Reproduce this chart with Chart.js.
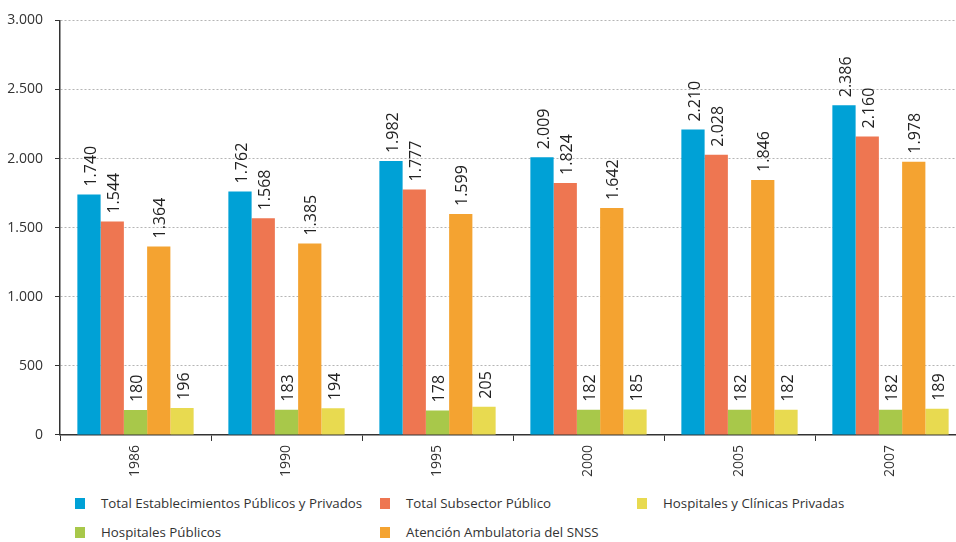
<!DOCTYPE html>
<html>
<head>
<meta charset="utf-8">
<script src="https://cdn.jsdelivr.net/npm/chart.js@4"></script>
<style>
    html, body { margin: 0; padding: 0; background: #fff; overflow: hidden; }
    body { width: 956px; height: 542px; position: relative; font-family: "Open Sans", sans-serif; }
    #wrap { position: absolute; left: 0; top: 0; width: 970px; height: 481px; }
    .leg { position: absolute; font-size: 13.3px; color: #333; white-space: nowrap; line-height: 16px; }
    .leg span { position: absolute; left: -26px; top: 3px; width: 10px; height: 11px; }
</style>
</head>
<body>
<div id="wrap"><canvas id="chart"></canvas></div>
<div id="legend"></div>
<script>
const years = ["1986", "1990", "1995", "2000", "2005", "2007"];
const totalEstablecimientos = [1740, 1762, 1982, 2009, 2210, 2386];
const totalSubsectorPublico = [1544, 1568, 1777, 1824, 2028, 2160];
const hospitalesPublicos = [180, 183, 178, 182, 182, 182];
const atencionAmbulatoria = [1364, 1385, 1599, 1642, 1846, 1978];
const hospitalesPrivados = [196, 194, 205, 185, 182, 189];
const yTicks = [0, 500, 1000, 1500, 2000, 2500, 3000];

const fmt = v => String(v).replace(/\B(?=(\d{3})+(?!\d))/g, ".");

const series = [
    { label: "Total Establecimientos Públicos y Privados", data: totalEstablecimientos, color: "#00a1d6" },
    { label: "Total Subsector Público", data: totalSubsectorPublico, color: "#ee7651" },
    { label: "Hospitales Públicos", data: hospitalesPublicos, color: "#a8c84a" },
    { label: "Atención Ambulatoria del SNSS", data: atencionAmbulatoria, color: "#f4a331" },
    { label: "Hospitales y Clínicas Privadas", data: hospitalesPrivados, color: "#e8da50" }
];

// value labels, rotated, above each bar
const barLabels = {
    id: "barLabels",
    afterDatasetsDraw(chart) {
        const ctx = chart.ctx;
        ctx.save();
        ctx.font = "16px 'Open Sans'";
        ctx.fillStyle = "#222";
        ctx.textAlign = "left";
        ctx.textBaseline = "middle";
        chart.data.datasets.forEach((ds, i) => {
            chart.getDatasetMeta(i).data.forEach((bar, j) => {
                ctx.save();
                ctx.translate(bar.x + 2, bar.y - 8);
                ctx.rotate(-Math.PI / 2);
                ctx.fillText(fmt(ds.data[j]), 0, 0);
                ctx.restore();
            });
        });
        ctx.restore();
    }
};

new Chart(document.getElementById("chart"), {
    type: "bar",
    data: {
        labels: years,
        datasets: series.map(s => ({
            label: s.label,
            data: s.data,
            backgroundColor: s.color,
            categoryPercentage: 0.77,
            barPercentage: 1
        }))
    },
    options: {
        responsive: true,
        maintainAspectRatio: false,
        animation: false,
        layout: { padding: { top: 8, right: 4, left: 0, bottom: 0 } },
        plugins: {
            legend: { display: false },
            tooltip: { enabled: false }
        },
        scales: {
            x: {
                grid: { display: true, drawOnChartArea: false, drawTicks: true, tickLength: 6, color: "#333" },
                border: { color: "#333", width: 1.5 },
                ticks: {
                    minRotation: 90, maxRotation: 90, padding: 4,
                    color: "#333", font: { family: "Open Sans", size: 14 }
                }
            },
            y: {
                min: 0, max: 3000,
                afterBuildTicks(scale) { scale.ticks = yTicks.map(v => ({ value: v })); },
                afterFit(scale) { scale.width = 60; },
                grid: { color: "#b5b5b5", tickLength: 5, tickColor: "#333", tickBorderDash: [0, 0] },
                border: { color: "#333", width: 1.5, dash: [2, 2] },
                ticks: {
                    padding: 12, color: "#333",
                    font: { family: "Open Sans", size: 14 },
                    callback: v => fmt(v)
                }
            }
        }
    },
    plugins: [barLabels]
});

// legend laid out as in the original
const legendPos = [[101, 495], [406, 495], [101, 524], [406, 524], [663, 495]];
const legend = document.getElementById("legend");
series.forEach((s, i) => {
    const d = document.createElement("div");
    d.className = "leg";
    d.style.left = legendPos[i][0] + "px";
    d.style.top = legendPos[i][1] + "px";
    d.innerHTML = '<span style="background:' + s.color + '"></span>' + s.label;
    legend.appendChild(d);
});
</script>
</body>
</html>
